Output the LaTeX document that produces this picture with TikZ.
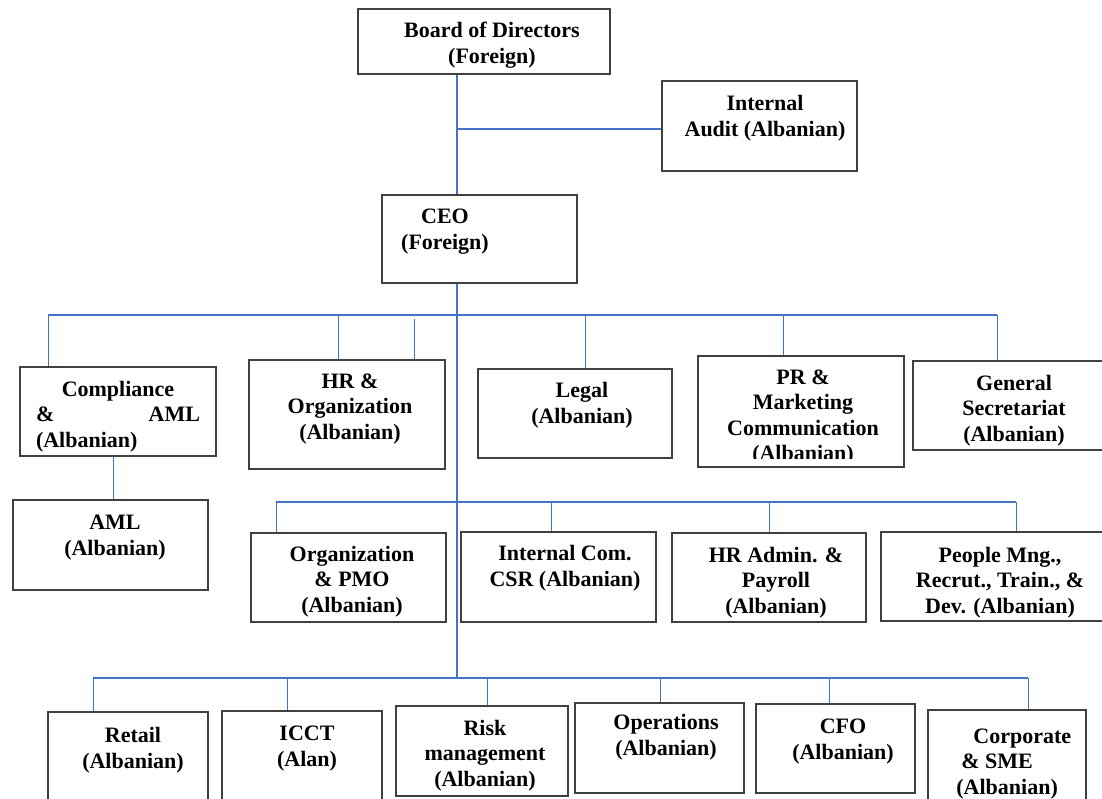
\documentclass[tikz,border=0pt]{standalone}
\usepackage{fontspec}
\setmainfont{Liberation Serif}
\usepackage{tikz}
\usetikzlibrary{calc,positioning}

\definecolor{linkblue}{HTML}{4472C4}
\definecolor{boxgray}{HTML}{404040}

\tikzset{
  orgbox/.style={draw=boxgray,line width=0.65pt,inner sep=0pt,fill=none},
  link/.style={draw=linkblue,line width=0.8pt},
  lbl/.style={anchor=base,align=center,inner sep=0pt,
    font=\bfseries\fontsize{11}{12.75}\selectfont}
}

\begin{document}
\begin{tikzpicture}[x=0.5pt,y=-0.5pt]
    \useasboundingbox (0,0) rectangle (1102,798);
    \clip (0,0) rectangle (1102,798);
    % top of the chart
    \node[orgbox,minimum width=126pt,minimum height=32.5pt] (bod) at (484,41.5) {};
    \node[orgbox,minimum width=97.5pt,minimum height=45pt] (audit) at (759.5,126) {};
    \node[orgbox,minimum width=97.5pt,minimum height=44pt] (ceo) at (479.5,239) {};
    % (base of a text node = baseline of its last line)
    \node[lbl] (bod-t) at (492,63) {Board of Directors\\(Foreign)};
    \node[lbl] (audit-t) at (765,136) {Internal\\Audit (Albanian)};
    \node[lbl] (ceo-t) at (445,249) {CEO\\(Foreign)};

    % first row
    \node[orgbox,minimum width=98pt,minimum height=44.5pt] (compl) at (118,411.5) {};
    \node[orgbox,minimum width=97.5pt,minimum height=45pt] (aml) at (110.5,545) {};
    \node[orgbox,minimum width=98pt,minimum height=54.5pt] (hrorg) at (347,414.5) {};
    \node[orgbox,minimum width=97pt,minimum height=44.5pt] (legal) at (575,413.5) {};
    \node[orgbox,minimum width=103pt,minimum height=55.5pt] (pr) at (801,411.5) {};
    \node[orgbox,minimum width=101pt,minimum height=44.5pt] (gensec) at (1014,405.5) {};
    \node[lbl,text width=82pt] (compl-t) at (118,396)
      {Compliance\\\&\hfill AML\\(Albanian)\hfill\null};
    \node[lbl] (aml-t) at (115,555) {AML\\(Albanian)};
    \node[lbl] (hrorg-t) at (350,439) {HR \&\\Organization\\(Albanian)};
    \node[lbl] (legal-t) at (582,423) {Legal\\(Albanian)};
    \begin{scope}
      \clip (pr.north west) rectangle ($(pr.south east)+(0,-9)$);
      \node[lbl] (pr-t) at (803,460.5) {PR \&\\Marketing\\Communication\\(Albanian)};
    \end{scope}
    \node[lbl] (gensec-t) at (1014,441) {General\\Secretariat\\(Albanian)};

    % second row
    \node[orgbox,minimum width=97.5pt,minimum height=44.5pt] (orgpmo) at (348.5,577.5) {};
    \node[orgbox,minimum width=97.5pt,minimum height=45pt] (intcom) at (558.5,577) {};
    \node[orgbox,minimum width=97pt,minimum height=44.5pt] (hradmin) at (769,577.5) {};
    \node[orgbox,minimum width=117pt,minimum height=44.5pt] (people) at (998,576.5) {};
    \node[lbl] (orgpmo-t) at (352,612) {Organization\\\& PMO\\(Albanian)};
    \node[lbl] (intcom-t) at (565,586) {Internal Com.\\CSR (Albanian)};
    \node[lbl] (hradmin-t) at (776,613) {HR Admin. \&\\Payroll\\(Albanian)};
    \node[lbl] (people-t) at (1000,613) {People Mng.,\\Recrut., Train., \&\\Dev. (Albanian)};

    % third row
    \node[orgbox,minimum width=80pt,minimum height=50pt] (retail) at (128,762) {};
    \node[orgbox,minimum width=80pt,minimum height=50.5pt] (icct) at (302,761.5) {};
    \node[orgbox,minimum width=86pt,minimum height=45pt] (risk) at (482,751) {};
    \node[orgbox,minimum width=84.5pt,minimum height=45pt] (ops) at (659.5,748) {};
    \node[orgbox,minimum width=79.5pt,minimum height=44.5pt] (cfo) at (835.5,748.5) {};
    \node[orgbox,minimum width=79pt,minimum height=51pt] (corp) at (1007,761) {};
    \node[lbl] (retail-t) at (133,768) {Retail\\(Albanian)};
    \node[lbl] (icct-t) at (307,766) {ICCT\\(Alan)};
    \node[lbl] (risk-t) at (485,786) {Risk\\management\\(Albanian)};
    \node[lbl] (ops-t) at (666,755) {Operations\\(Albanian)};
    \node[lbl] (cfo-t) at (843,759) {CFO\\(Albanian)};
    \node[lbl,align=left,anchor=base west] (corp-t) at (956,794)
      {\hspace*{8.5pt}Corporate\\\hspace*{2.5pt}\& SME\\(Albanian)};

    % lines
    \coordinate (trunk) at (457,0);
    \coordinate (bus1) at (0,315);
    \coordinate (bus2) at (0,502);
    \coordinate (bus3) at (0,678);
    \draw[link] (trunk |- bod.south) -- (trunk |- ceo.north);
    \draw[link] ($(audit.west)+(0,3)$) coordinate (a1) -- (trunk |- a1);
    \draw[link] (trunk |- ceo.south) -- (trunk |- bus3);

    \draw[link] ($(compl.north west)+(29,0)$) coordinate (c1) -- (c1 |- bus1);
    \draw[link] ($(hrorg.north west)+(90,0)$) coordinate (c2) -- (c2 |- bus1);
    \draw[link] ($(hrorg.north west)+(166,0)$) -- ($(hrorg.north west)+(166,-40)$);
    \draw[link] ($(legal.north west)+(108,0)$) coordinate (c3) -- (c3 |- bus1);
    \draw[link] ($(pr.north west)+(86,0)$) coordinate (c4) -- (c4 |- bus1);
    \draw[link] ($(gensec.north west)+(85,0)$) coordinate (c5) -- (c5 |- bus1);
    \draw[link] (c1 |- bus1) -- (c5 |- bus1);
    \draw[link] ($(compl.south west)+(94,0)$) coordinate (c6) -- (c6 |- aml.north);

    \draw[link] ($(orgpmo.north west)+(26,0)$) coordinate (d1) -- (d1 |- bus2);
    \draw[link] ($(intcom.north west)+(91,0)$) coordinate (d2) -- (d2 |- bus2);
    \draw[link] ($(hradmin.north west)+(98,0)$) coordinate (d3) -- (d3 |- bus2);
    \draw[link] ($(people.north west)+(136,0)$) coordinate (d4) -- (d4 |- bus2);
    \draw[link] (d1 |- bus2) -- (d4 |- bus2);

    \draw[link] ($(retail.north west)+(46,0)$) coordinate (e1) -- (e1 |- bus3);
    \draw[link] ($(icct.north west)+(66,0)$) coordinate (e2) -- (e2 |- bus3);
    \draw[link] ($(risk.north west)+(92,0)$) coordinate (e3) -- (e3 |- bus3);
    \draw[link] ($(ops.north west)+(86,0)$) coordinate (e4) -- (e4 |- bus3);
    \draw[link] ($(cfo.north west)+(74,0)$) coordinate (e5) -- (e5 |- bus3);
    \draw[link] ($(corp.north west)+(101,0)$) coordinate (e6) -- (e6 |- bus3);
    \draw[link] (e1 |- bus3) -- (e6 |- bus3);
  \end{tikzpicture}
\end{document}
